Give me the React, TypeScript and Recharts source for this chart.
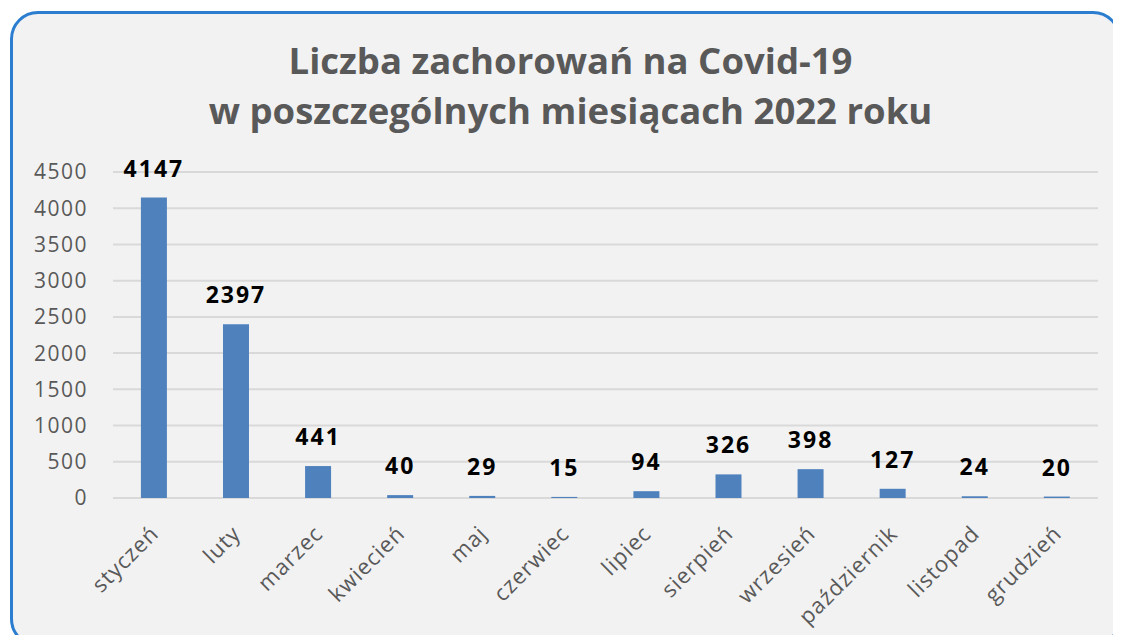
import { BarChart, Bar, XAxis, YAxis, CartesianGrid, LabelList } from "recharts";

const months = [
  "styczeń",
  "luty",
  "marzec",
  "kwiecień",
  "maj",
  "czerwiec",
  "lipiec",
  "sierpień",
  "wrzesień",
  "październik",
  "listopad",
  "grudzień",
];
const cases = [4147, 2397, 441, 40, 29, 15, 94, 326, 398, 127, 24, 20];
const yTicks = [0, 500, 1000, 1500, 2000, 2500, 3000, 3500, 4000, 4500];

const data = months.map((m, i) => ({ month: m, value: cases[i] }));

const FONT = "'Open Sans', Lato, sans-serif";

function MonthTick({ x, y, payload }: any) {
  return (
    <text
      x={x + 6}
      y={y + 29}
      transform={`rotate(-45 ${x + 6} ${y + 29})`}
      textAnchor="end"
      fontFamily={FONT}
      fontSize={22}
      letterSpacing={1}
      fill="#595959"
    >
      {payload.value}
    </text>
  );
}

export default function App() {
  return (
    <div style={{ position: "relative", width: 1121, height: 643, margin: -8, overflow: "hidden", background: "#fff" }}>
      <div
        style={{
          position: "absolute",
          left: 10,
          top: 11,
          width: 1111,
          height: 636,
          border: "3px solid #2b7dd0",
          borderRadius: 28,
          background: "#f2f2f2",
          boxSizing: "border-box",
        }}
      />
      <div
        style={{
          position: "absolute",
          left: 0,
          top: 35,
          width: 1141,
          textAlign: "center",
          fontFamily: FONT,
          fontWeight: 700,
          fontSize: 36.5,
          lineHeight: "50px",
          color: "#595959",
        }}
      >
        Liczba zachorowań na Covid-19
        <br />
        w poszczególnych miesiącach 2022 roku
      </div>
      <div style={{ position: "absolute", left: 0, top: 0 }}>
        <BarChart
          width={1121}
          height={643}
          data={data}
          margin={{ top: 172, right: 23, bottom: 0, left: 0 }}
          barCategoryGap="34%"
        >
          <CartesianGrid vertical={false} stroke="#d9d9d9" strokeWidth={2} />
          <YAxis
            domain={[0, 4500]}
            ticks={yTicks}
            width={113}
            axisLine={false}
            tickLine={false}
            tickMargin={19}
            tick={{ fontFamily: FONT, fontSize: 21, fill: "#595959", letterSpacing: 1.5 }}
          />
          <XAxis
            dataKey="month"
            axisLine={false}
            tickLine={false}
            interval={0}
            height={145}
            tick={<MonthTick />}
          />
          <Bar dataKey="value" fill="#4f81bd" isAnimationActive={false}>
            <LabelList
              dataKey="value"
              position="top"
              offset={21}
              style={{ fontFamily: FONT, fontWeight: 700, fontSize: 23, fill: "#000", letterSpacing: 2 }}
            />
          </Bar>
        </BarChart>
      </div>
    </div>
  );
}
